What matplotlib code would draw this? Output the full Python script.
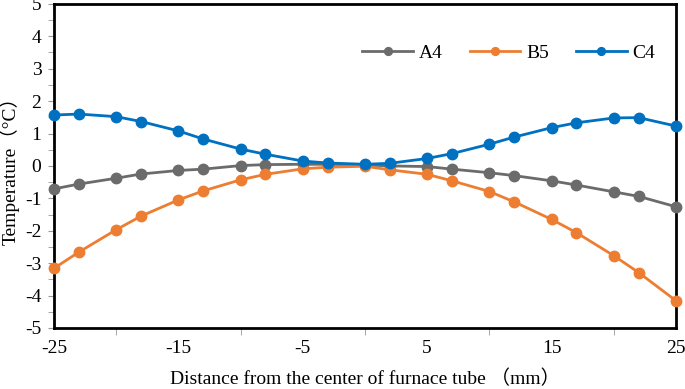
import matplotlib
matplotlib.use('Agg')
import matplotlib.pyplot as plt
from matplotlib.ticker import MultipleLocator

plt.rcParams['font.family'] = ['Liberation Serif', 'Noto Sans CJK SC']
plt.rcParams['axes.unicode_minus'] = False

x = [-25, -23, -20, -18, -15, -13, -10, -8, -5, -3, 0, 2, 5, 7, 10, 12, 15, 17, 20, 22, 25]
a4 = [-0.71, -0.56, -0.38, -0.25, -0.14, -0.10, 0.01, 0.04, 0.05, 0.05, 0.03, 0.0,
      -0.02, -0.10, -0.21, -0.30, -0.46, -0.59, -0.80, -0.94, -1.26]
b5 = [-3.16, -2.66, -1.97, -1.55, -1.05, -0.77, -0.43, -0.26, -0.09, -0.04, -0.01, -0.12,
      -0.26, -0.46, -0.79, -1.11, -1.65, -2.06, -2.77, -3.29, -4.16]
c4 = [1.57, 1.60, 1.52, 1.37, 1.08, 0.83, 0.52, 0.36, 0.15, 0.09, 0.05, 0.08,
      0.23, 0.38, 0.67, 0.89, 1.18, 1.33, 1.48, 1.49, 1.23]

fig = plt.figure(figsize=(6.85, 3.89), dpi=100)
ax = fig.add_axes([0.0788, 0.157, 0.908, 0.833])

ax.plot(x, a4, '-o', color='#6b6b6b', lw=2, ms=7.5, label='A4', clip_on=False, zorder=3)
ax.plot(x, b5, '-o', color='#ed7d31', lw=2, ms=7.5, label='B5', clip_on=False, zorder=3)
ax.plot(x, c4, '-o', color='#0070c0', lw=2, ms=7.5, label='C4', clip_on=False, zorder=4)

ax.set_xlim(-25, 25)
ax.set_ylim(-5, 5)
ax.set_xticks([-25, -15, -5, 5, 15, 25])
ax.xaxis.set_minor_locator(MultipleLocator(5))
ax.yaxis.set_major_locator(MultipleLocator(1))
ax.yaxis.set_minor_locator(MultipleLocator(0.5))
ax.tick_params(which='both', direction='out', labelsize=14, color='#999999')
ax.tick_params(axis='x', which='major', length=0, pad=9)
ax.tick_params(axis='x', which='minor', length=5)
ax.tick_params(axis='y', which='major', length=4, pad=5)
ax.tick_params(axis='y', which='minor', length=4)
for s in ax.spines.values():
    s.set_linewidth(2)

ax.set_xlabel('Distance from the center of furnace tube （mm）', fontsize=14, labelpad=9)
ax.set_ylabel('Temperature（°C）', fontsize=14, labelpad=4)

ax.legend(loc='upper right', bbox_to_anchor=(0.995, 0.93), ncol=3, frameon=False,
          fontsize=14, markerscale=0.75, handlelength=2.6, columnspacing=1.4, handletextpad=0.3)

fig.savefig('out.png', dpi=100)
